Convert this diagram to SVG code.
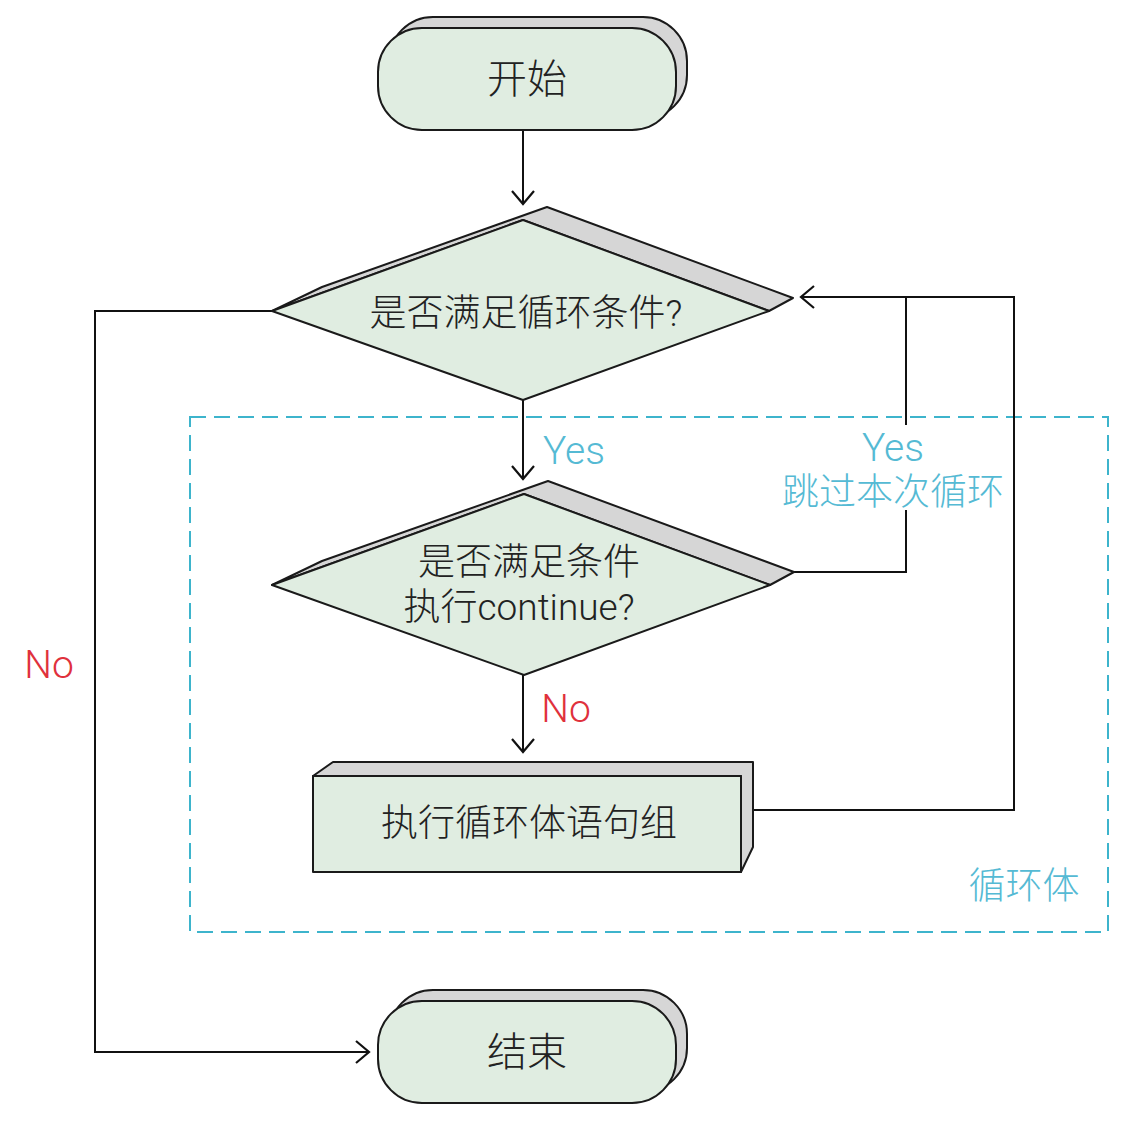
<svg xmlns="http://www.w3.org/2000/svg" width="1140" height="1123" viewBox="0 0 1140 1123">
<defs>
<style>
.shadow{fill:#d6d6d6;stroke:#1a1a1a;stroke-width:2;stroke-linejoin:round}
.face{fill:#e0ede1;stroke:#1a1a1a;stroke-width:2;stroke-linejoin:round}
.txt{font-family:Roboto,"Noto Sans CJK SC",sans-serif;fill:#222;text-anchor:middle;font-weight:300}
.lbl{font-family:Roboto,"Noto Sans CJK SC",sans-serif;text-anchor:middle;font-weight:300}
.teal{fill:#55bad4}
.red{fill:#e0313c}
.conn{fill:none;stroke:#111;stroke-width:2}
</style>
<marker id="arr" markerUnits="userSpaceOnUse" markerWidth="16" markerHeight="26" viewBox="0 0 16 26" refX="14" refY="13" orient="auto">
<path d="M1,2 L14,13 L1,24" fill="none" stroke="#111" stroke-width="2.2"/>
</marker>
</defs>
<rect width="1140" height="1123" fill="#ffffff"/>

<g id="loop-body">
<rect x="190" y="417" width="918" height="515" fill="none" stroke="#3db4cc" stroke-width="2" stroke-dasharray="16 8"/>
<text class="lbl teal" x="1024" y="899" font-size="37">循环体</text>
</g>

<g id="connectors">
<path class="conn" d="M523,130 L523,204" marker-end="url(#arr)"/>
<path class="conn" d="M523,400 L523,479" marker-end="url(#arr)"/>
<path class="conn" d="M523,675 L523,752" marker-end="url(#arr)"/>
<path class="conn" d="M272,311 L95,311 L95,1052 L369,1052" marker-end="url(#arr)"/>
<path class="conn" d="M793,572 L906,572 L906,510"/>
<path class="conn" d="M906,425 L906,297"/>
<path class="conn" d="M753,810 L1014,810 L1014,297 L801,297" marker-end="url(#arr)"/>
</g>

<g id="start">
<rect class="shadow" x="389" y="17" width="298" height="102" rx="44"/>
<rect class="face" x="378" y="28" width="298" height="102" rx="44"/>
<text class="txt" x="527" y="93" font-size="40">开始</text>
</g>

<g id="cond1">
<polygon class="shadow" points="272,311 322,287 547,207 793,298 769,311 523,220"/>
<polygon class="face" points="272,311 523,220 769,311 523,400"/>
<text class="txt" x="526" y="326" font-size="37">是否满足循环条件?</text>
</g>

<g id="cond2">
<polygon class="shadow" points="272,585 322,561 548,481 794,572 770,585 524,494"/>
<polygon class="face" points="272,585 524,494 770,585 524,675"/>
<text class="txt" x="529" y="575" font-size="37">是否满足条件</text>
<text class="txt" x="519" y="620" font-size="37">执行continue?</text>
</g>

<g id="body">
<polygon class="shadow" points="313,776 333,762 753,762 753,847 741,872 741,776"/>
<rect class="face" x="313" y="776" width="428" height="96"/>
<text class="txt" x="529" y="836" font-size="37">执行循环体语句组</text>
</g>

<g id="end">
<rect class="shadow" x="389" y="990" width="298" height="102" rx="44"/>
<rect class="face" x="378" y="1001" width="298" height="102" rx="44"/>
<text class="txt" x="527" y="1066" font-size="40">结束</text>
</g>

<g id="labels">
<text class="lbl teal" x="574" y="464" font-size="39">Yes</text>
<text class="lbl teal" x="893" y="461" font-size="39">Yes</text>
<text class="lbl teal" x="893" y="505" font-size="37">跳过本次循环</text>
<text class="lbl red" x="49" y="678" font-size="39">No</text>
<text class="lbl red" x="566" y="722" font-size="39">No</text>
</g>
</svg>
